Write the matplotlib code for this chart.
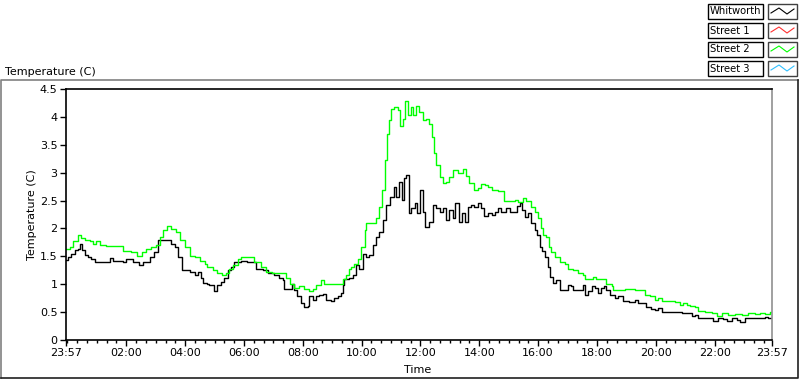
import matplotlib
matplotlib.use('Agg')
import matplotlib.pyplot as plt
from matplotlib.lines import Line2D
from matplotlib.patches import Rectangle

# minutes since 23:57 and temperature (C)
whitworth_min = [0, 4, 11, 18, 25, 29, 33, 38, 45, 52, 59, 82, 89, 96, 116, 123, 130, 137,
                 149, 157, 167, 172, 179, 188, 198, 208, 215, 222, 229, 236, 246, 253, 263,
                 270, 276, 280, 288, 292, 302, 309, 316, 323, 330, 336, 343, 357, 370, 381,
                 388, 401, 411, 425, 435, 442, 445, 458, 460, 466, 472, 479, 486, 493, 496,
                 503, 510, 517, 524, 530, 541, 547, 554, 561, 564, 568, 577, 585, 592, 598,
                 605, 612, 619, 626, 633, 639, 646, 653, 660, 668, 673, 680, 685, 690, 694,
                 699, 704, 711, 716, 722, 728, 733, 741, 748, 755, 762, 769, 776, 782, 789,
                 794, 801, 807, 813, 820, 827, 833, 840, 847, 852, 861, 868, 874, 881, 888,
                 898, 905, 912, 919, 925, 930, 936, 942, 949, 956, 961, 966, 971, 978, 983,
                 987, 993, 1000, 1007, 1017, 1024, 1031, 1034, 1051, 1055, 1058, 1065, 1072,
                 1078, 1085, 1092, 1097, 1102, 1109, 1119, 1126, 1136, 1149, 1153, 1160,
                 1167, 1177, 1184, 1194, 1201, 1208, 1215, 1235, 1249, 1256, 1269, 1276,
                 1283, 1290, 1310, 1320, 1330, 1341, 1348, 1358, 1368, 1375, 1385, 1395,
                 1405, 1419, 1426, 1432, 1440]
whitworth = [1.43, 1.49, 1.55, 1.61, 1.64, 1.72, 1.61, 1.52, 1.49, 1.46, 1.40, 1.40, 1.47,
             1.41, 1.40, 1.46, 1.46, 1.39, 1.34, 1.40, 1.40, 1.49, 1.58, 1.79, 1.80, 1.79,
             1.73, 1.67, 1.49, 1.25, 1.25, 1.22, 1.16, 1.22, 1.11, 1.02, 1.00, 0.99, 0.87,
             0.99, 1.04, 1.11, 1.25, 1.30, 1.40, 1.41, 1.40, 1.39, 1.28, 1.25, 1.21, 1.16,
             1.12, 1.08, 0.91, 0.91, 1.00, 0.90, 0.78, 0.66, 0.59, 0.61, 0.78, 0.72, 0.79,
             0.81, 0.82, 0.72, 0.70, 0.75, 0.78, 0.84, 0.99, 1.09, 1.11, 1.16, 1.34, 1.28,
             1.55, 1.49, 1.52, 1.70, 1.85, 1.94, 2.15, 2.42, 2.57, 2.75, 2.57, 2.84, 2.51,
             2.90, 2.96, 2.27, 2.36, 2.45, 2.27, 2.69, 2.30, 2.03, 2.12, 2.42, 2.36, 2.30,
             2.36, 2.15, 2.33, 2.19, 2.45, 2.12, 2.27, 2.12, 2.39, 2.42, 2.39, 2.45, 2.36,
             2.22, 2.28, 2.24, 2.30, 2.37, 2.30, 2.37, 2.30, 2.30, 2.40, 2.46, 2.33, 2.21,
             2.28, 2.09, 1.97, 1.88, 1.67, 1.60, 1.49, 1.31, 1.13, 1.02, 1.08, 0.90, 0.90,
             0.99, 0.96, 0.90, 0.90, 0.99, 0.81, 0.87, 0.96, 0.93, 0.84, 0.93, 0.97, 0.90,
             0.81, 0.75, 0.78, 0.70, 0.69, 0.69, 0.72, 0.66, 0.66, 0.60, 0.55, 0.54, 0.57,
             0.51, 0.51, 0.51, 0.49, 0.49, 0.43, 0.45, 0.40, 0.40, 0.34, 0.39, 0.37, 0.34,
             0.39, 0.36, 0.33, 0.39, 0.39, 0.39, 0.39, 0.42, 0.39, 0.39]

street2_min = [0, 8, 14, 25, 31, 38, 48, 55, 62, 69, 82, 110, 116, 133, 144, 154, 164, 174,
               184, 191, 198, 206, 215, 225, 232, 242, 253, 263, 273, 283, 288, 299, 309,
               319, 326, 333, 340, 350, 357, 377, 384, 398, 408, 421, 435, 445, 449, 456,
               466, 476, 486, 496, 503, 510, 520, 527, 547, 561, 564, 571, 577, 582, 588,
               595, 602, 609, 612, 626, 633, 639, 644, 650, 654, 658, 663, 670, 677, 682,
               687, 692, 697, 703, 707, 713, 721, 728, 735, 741, 746, 750, 755, 762, 769,
               776, 782, 789, 799, 810, 816, 823, 833, 840, 847, 854, 861, 868, 881, 893,
               915, 922, 932, 939, 948, 956, 963, 968, 973, 980, 985, 990, 997, 1007, 1017,
               1024, 1034, 1044, 1055, 1058, 1075, 1082, 1099, 1102, 1113, 1116, 1140,
               1160, 1170, 1181, 1191, 1201, 1208, 1215, 1235, 1242, 1252, 1259, 1266,
               1273, 1283, 1290, 1303, 1317, 1327, 1337, 1351, 1364, 1378, 1392, 1405,
               1416, 1426, 1436, 1440]
street2 = [1.64, 1.67, 1.78, 1.89, 1.83, 1.79, 1.78, 1.73, 1.78, 1.71, 1.68, 1.68, 1.59,
           1.58, 1.50, 1.58, 1.64, 1.67, 1.71, 1.85, 1.97, 2.05, 1.99, 1.94, 1.79, 1.66,
           1.51, 1.49, 1.42, 1.37, 1.31, 1.25, 1.20, 1.16, 1.20, 1.27, 1.34, 1.45, 1.48,
           1.48, 1.39, 1.30, 1.22, 1.20, 1.20, 1.20, 1.11, 1.00, 0.93, 0.97, 0.91, 0.88,
           0.91, 0.99, 1.08, 1.00, 1.00, 1.00, 1.09, 1.16, 1.28, 1.31, 1.37, 1.46, 1.67,
           1.97, 2.09, 2.09, 2.18, 2.39, 2.69, 3.23, 3.70, 3.94, 4.15, 4.17, 4.12, 3.84,
           3.97, 4.29, 4.03, 4.18, 4.03, 4.19, 4.09, 3.94, 3.97, 3.88, 3.64, 3.35, 3.14,
           2.93, 2.81, 2.84, 2.92, 3.05, 2.99, 3.06, 2.94, 2.81, 2.69, 2.72, 2.79, 2.78,
           2.75, 2.69, 2.68, 2.50, 2.51, 2.48, 2.55, 2.50, 2.39, 2.30, 2.18, 2.00, 1.88,
           1.85, 1.67, 1.58, 1.49, 1.40, 1.37, 1.28, 1.25, 1.20, 1.16, 1.09, 1.13, 1.09,
           1.09, 1.00, 0.96, 0.90, 0.91, 0.90, 0.89, 0.81, 0.78, 0.72, 0.76, 0.70, 0.70,
           0.69, 0.63, 0.67, 0.63, 0.61, 0.60, 0.52, 0.51, 0.48, 0.43, 0.49, 0.45, 0.47,
           0.45, 0.48, 0.47, 0.49, 0.47, 0.51, 0.49]

series_names = ['Whitworth', 'Street 1', 'Street 2', 'Street 3']
series_colors = ['#000000', '#ff3030', '#00ff00', '#30c0ff']

time_labels = ['23:57', '02:00', '04:00', '06:00', '08:00', '10:00', '12:00',
               '14:00', '16:00', '18:00', '20:00', '22:00', '23:57']
y_ticks = [0, 0.5, 1, 1.5, 2, 2.5, 3, 3.5, 4, 4.5]

W, H = 800, 380


def px(x, y):
    # pixel (from top-left) -> figure fraction
    return x / W, 1 - y / H


def minutes_from_start(label, i):
    if i == len(time_labels) - 1:
        return 1440
    h, m = label.split(':')
    return (int(h) * 60 + int(m) - (23 * 60 + 57)) % 1440


def draw_legend(fig):
    for i, (name, col) in enumerate(zip(series_names, series_colors)):
        top = 4 + i * 19
        x0, y0 = px(708, top + 14.5)
        fig.patches.append(Rectangle((x0, y0), 55 / W, 14.5 / H, transform=fig.transFigure,
                                     fill=False, edgecolor='black', linewidth=1))
        fig.text(710 / W, 1 - (top + 7.5) / H, name, fontsize=7.2, va='center', ha='left')
        x1, y1 = px(768, top + 14.5)
        fig.patches.append(Rectangle((x1, y1), 29 / W, 14.5 / H, transform=fig.transFigure,
                                     fill=False, edgecolor='#404040', linewidth=1))
        zx = [771, 779, 787, 794]
        zy = [top + 9, top + 4, top + 10, top + 5]
        fig.lines.append(Line2D([a / W for a in zx], [1 - b / H for b in zy],
                                transform=fig.transFigure, color=col, linewidth=0.8))


def show():
    plt.rcParams['font.family'] = ['DejaVu Sans']
    fig = plt.figure(figsize=(8, 3.8), dpi=100)

    # outer frame
    fig.lines.append(Line2D([1 / W, 1 / W, 798 / W], [1 - 378 / H, 1 - 80 / H, 1 - 80 / H],
                            transform=fig.transFigure, color='#808080', linewidth=1.2))
    fig.lines.append(Line2D([1 / W, 798 / W, 798 / W], [1 - 378 / H, 1 - 378 / H, 1 - 80 / H],
                            transform=fig.transFigure, color='#202020', linewidth=1.2))

    ax = fig.add_axes([66 / W, 1 - 340 / H, 706 / W, 251 / H])
    ax.plot(whitworth_min, whitworth, color=series_colors[0], linewidth=1.0,
            drawstyle='steps-post')
    ax.plot(street2_min, street2, color=series_colors[2], linewidth=1.0,
            drawstyle='steps-post')

    ax.set_xlim(0, 1440)
    ax.set_ylim(0, 4.5)
    ax.set_yticks(y_ticks)
    ax.set_yticklabels(['0' if v == 0 else ('%g' % v) for v in y_ticks])
    major = [minutes_from_start(l, i) for i, l in enumerate(time_labels)]
    ax.set_xticks(major)
    ax.set_xticklabels(time_labels)
    ax.set_xticks([3 + 20 * k for k in range(72)], minor=True)
    ax.tick_params(axis='both', which='major', direction='out', length=4, width=1,
                   labelsize=8, pad=2, color='black')
    ax.tick_params(axis='x', which='minor', direction='out', length=2.5, width=1)
    for s in ['left', 'top', 'bottom']:
        ax.spines[s].set_color('black')
        ax.spines[s].set_linewidth(1.2)
    ax.spines['right'].set_color('#909090')
    ax.spines['right'].set_linewidth(1.2)

    fig.text(5 / W, 1 - 72 / H, 'Temperature (C)', fontsize=8, va='center', ha='left')
    fig.text(32 / W, 1 - 215 / H, 'Temperature (C)', fontsize=8, va='center', ha='center',
             rotation=90)
    fig.text(418 / W, 1 - 370 / H, 'Time', fontsize=8, va='center', ha='center')

    draw_legend(fig)
    fig.savefig('out.png', dpi=100)


def main():
    show()


if __name__ == '__main__':
    main()
